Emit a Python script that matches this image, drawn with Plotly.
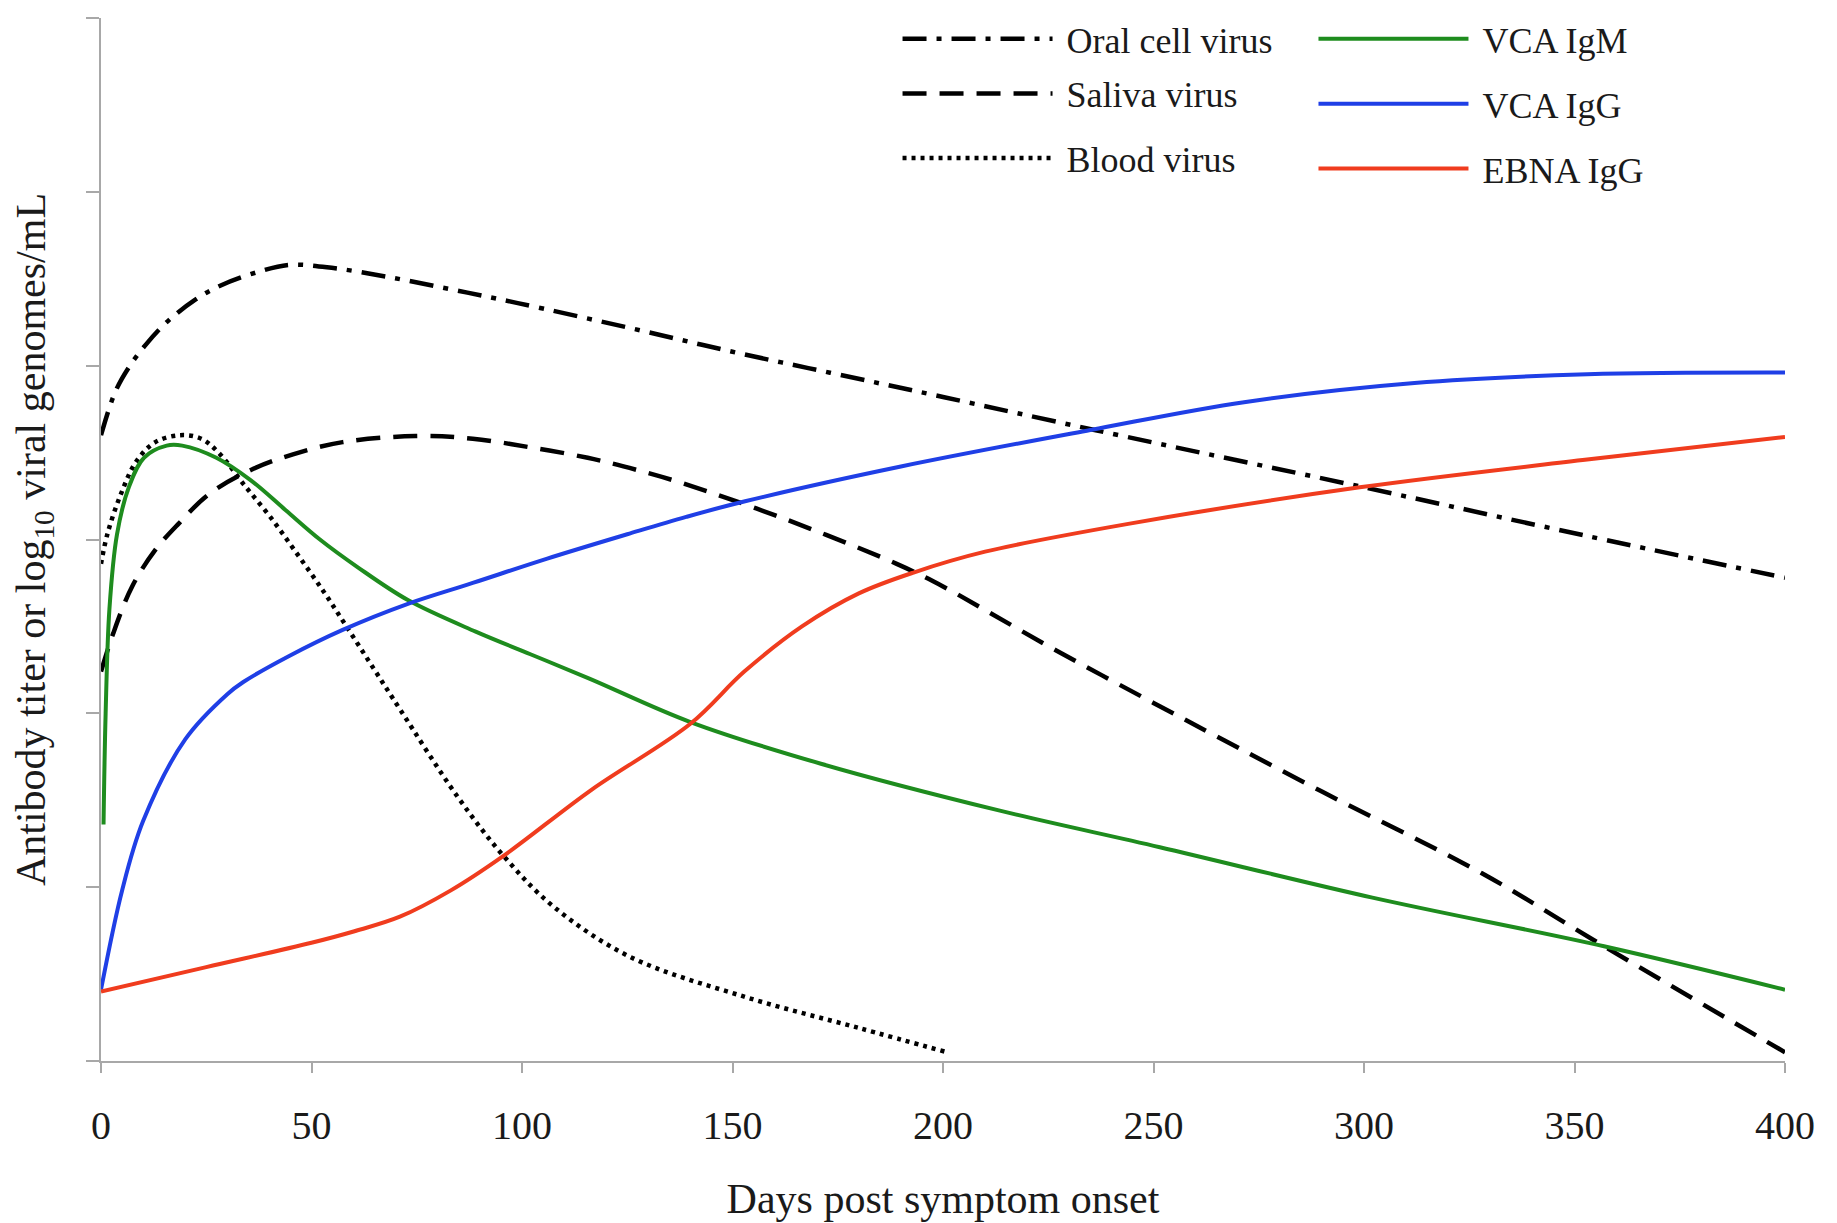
import plotly.graph_objects as go

# ---- data (days post symptom onset, arbitrary units) ----
oral_x = [0, 3.4, 6.6, 10.6, 15.6, 22.4, 28.3, 37.4, 45, 55.6, 68.3, 83, 99, 125, 150, 175, 200, 236, 300, 353, 400]
oral_y = [3.60, 3.85, 3.99, 4.12, 4.25, 4.38, 4.46, 4.54, 4.58, 4.56, 4.51, 4.44, 4.36, 4.22, 4.08, 3.95, 3.82, 3.63, 3.30, 3.02, 2.78]

saliva_x = [0, 2.9, 7.4, 12.9, 18.4, 25.6, 35.6, 45.6, 57.4, 74.7, 88.3, 102, 115.6, 127.3, 137.3, 160, 189, 200, 211, 227, 250, 264, 290, 328, 357, 400]
saliva_y = [2.24, 2.46, 2.73, 2.94, 3.09, 3.26, 3.40, 3.49, 3.56, 3.595, 3.58, 3.53, 3.47, 3.40, 3.33, 3.14, 2.86, 2.73, 2.58, 2.36, 2.06, 1.88, 1.55, 1.08, 0.66, 0.05]

blood_x = [0, 1.5, 4.7, 8.4, 12.9, 18.8, 23.8, 28.3, 33.8, 40.2, 46.5, 52.9, 58.3, 64.7, 71.1, 84.7, 95.6, 107.4, 125.6, 152.8, 180, 201]
blood_y = [2.86, 3.03, 3.26, 3.45, 3.56, 3.60, 3.58, 3.49, 3.32, 3.13, 2.92, 2.70, 2.50, 2.26, 2.02, 1.52, 1.18, 0.89, 0.60, 0.37, 0.19, 0.05]

igm_x = [0.6, 1.1, 2.0, 3.8, 6.6, 10.2, 15.6, 19.3, 27.4, 35.6, 43.8, 52, 61, 73, 89, 102, 116, 140, 171, 213.5, 251.5, 302, 357, 400]
igm_y = [1.36, 2.0, 2.6, 3.03, 3.30, 3.47, 3.54, 3.54, 3.47, 3.34, 3.17, 3.00, 2.84, 2.65, 2.47, 2.34, 2.20, 1.95, 1.71, 1.44, 1.23, 0.94, 0.66, 0.41]

igg_x = [0, 5, 10, 20, 30, 33.8, 44.7, 57.4, 72.9, 88.3, 106, 125, 139, 153, 190, 235, 271.5, 312, 353, 400]
igg_y = [0.41, 0.98, 1.38, 1.85, 2.11, 2.18, 2.33, 2.48, 2.63, 2.75, 2.89, 3.03, 3.13, 3.22, 3.42, 3.63, 3.79, 3.90, 3.95, 3.96]

ebna_x = [0, 25, 50, 60, 71, 83, 95.6, 116.5, 140, 152.8, 166.5, 180, 193, 210, 244, 299, 353, 400]
ebna_y = [0.40, 0.54, 0.68, 0.745, 0.83, 0.98, 1.18, 1.56, 1.94, 2.24, 2.50, 2.69, 2.81, 2.93, 3.09, 3.30, 3.46, 3.59]

x_ticks = [0, 50, 100, 150, 200, 250, 300, 350, 400]
y_ticks = [0, 1, 2, 3, 4, 5, 6]

FONT = "Liberation Serif"
NB = "\u00a0"
series = [
    ("Oral cell virus", oral_x, oral_y, "black", "24px,10px,5px,10px", 4.5, "legend", 0.473, 0.9799),
    ("Saliva virus", saliva_x, saliva_y, "black", "24px,13px", 4.5, "legend2", 0.473, 0.9276),
    ("Blood virus", blood_x, blood_y, "black", "4px,5px", 4.5, "legend3", 0.473, 0.8656),
    ("VCA IgM", igm_x, igm_y, "#1E8C1E", "solid", 4, "legend4", 0.720, 0.9799),
    ("VCA IgG", igg_x, igg_y, "#1F3FE6", "solid", 4, "legend5", 0.720, 0.9176),
    ("EBNA IgG", ebna_x, ebna_y, "#F03C1E", "solid", 4, "legend6", 0.720, 0.8556),
]

fig = go.Figure()
legends = {}
for name, xs, ys, col, dash, w, lg, lx, ly in series:
    fig.add_trace(go.Scatter(
        x=xs, y=ys, mode="lines", name=NB + name, legend=lg,
        line=dict(color=col, width=w, dash=dash, shape="spline", smoothing=1.0),
    ))
    legends[lg] = dict(
        x=lx, y=ly, xanchor="left", yanchor="middle",
        bgcolor="rgba(0,0,0,0)", borderwidth=0, itemwidth=150,
        font=dict(family=FONT, size=36, color="#1a1a1a"),
    )

fig.update_layout(
    width=1837, height=1223,
    margin=dict(l=101, r=52, t=9, b=160),
    paper_bgcolor="white", plot_bgcolor="white",
    showlegend=True,
    font=dict(family=FONT, size=40, color="#1a1a1a"),
    **legends,
)
fig.update_xaxes(
    range=[0, 400], tickvals=x_ticks, ticktext=[str(t) for t in x_ticks],
    showgrid=False, zeroline=False, showline=True, linecolor="#A8A8A8", linewidth=2,
    ticks="outside", ticklen=10, tickcolor="#A8A8A8", tickwidth=1.5,
    ticklabelstandoff=18, tickfont=dict(family=FONT, size=40, color="#1a1a1a"),
    title=dict(text="Days post symptom onset", font=dict(family=FONT, size=42, color="#1a1a1a"), standoff=37),
)
fig.update_yaxes(
    range=[0, 6], tickvals=y_ticks, showticklabels=False,
    showgrid=False, zeroline=False, showline=True, linecolor="#A8A8A8", linewidth=2,
    ticks="outside", ticklen=13, tickcolor="#A8A8A8", tickwidth=1.5,
    title=dict(text="Antibody titer or log<sub>10</sub> viral genomes/mL",
               font=dict(family=FONT, size=42, color="#1a1a1a"), standoff=27),
)

fig.write_html("out.html", config={"displayModeBar": False},
               post_script="document.body.style.margin='0';document.body.style.padding='0';")
